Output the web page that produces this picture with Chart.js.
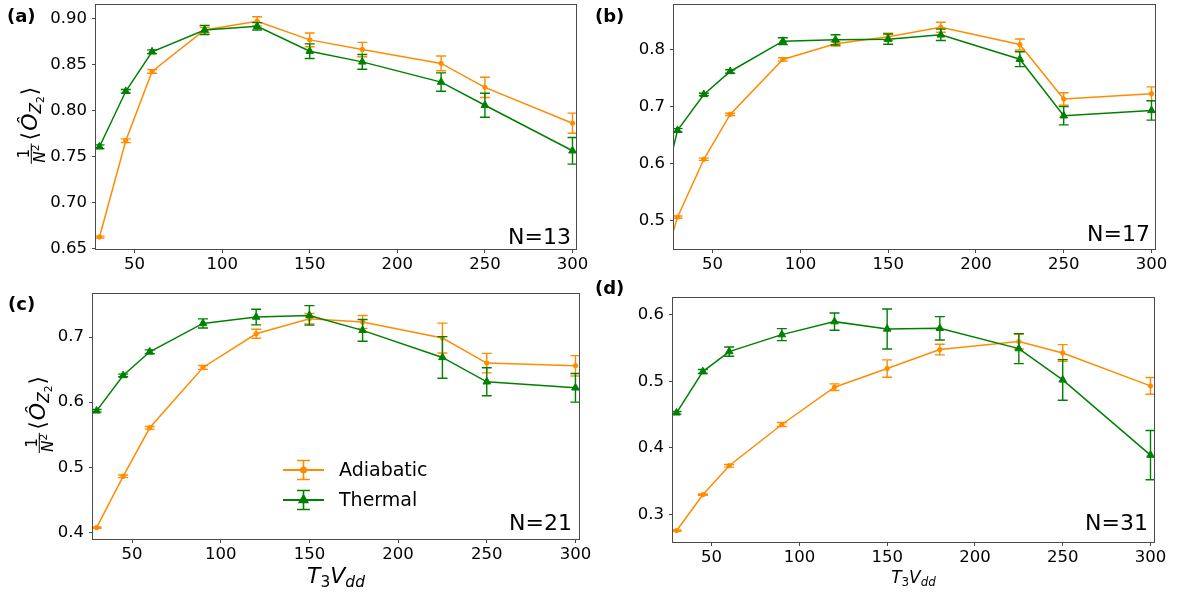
<!DOCTYPE html>
<html><head><meta charset="utf-8">
<script src="https://cdn.jsdelivr.net/npm/chart.js@4.4.0/dist/chart.umd.min.js"></script>
<style>
html,body{margin:0;padding:0;background:#fff;}
#wrap{position:relative;width:1182px;height:592px;overflow:hidden;background:#fff;}
canvas{position:absolute;left:0;top:0;}
</style></head><body>
<div id="wrap">
<canvas id="ca" width="1182" height="592"></canvas>
<canvas id="cb" width="1182" height="592"></canvas>
<canvas id="cc" width="1182" height="592"></canvas>
<canvas id="cd" width="1182" height="592"></canvas>
</div>
<script>
// ---------------- data ----------------
const xValues = [30, 45, 60, 90, 120, 150, 180, 225, 250, 300];
const xValuesN17 = [20, 30, 45, 60, 90, 120, 150, 180, 225, 250, 300];
const xTicks = [50, 100, 150, 200, 250, 300];

const adiabaticN13 = [0.6625, 0.7672, 0.8426, 0.8877, 0.8971, 0.8769, 0.8664, 0.8513, 0.8253, 0.7863];
const adiabaticErrN13 = [0.001, 0.002, 0.002, 0.003, 0.005, 0.0075, 0.0078, 0.008, 0.011, 0.011];
const thermalN13 = [0.7607, 0.821, 0.864, 0.8877, 0.8917, 0.8646, 0.853, 0.831, 0.8058, 0.7563];
const thermalErrN13 = [0.002, 0.002, 0.002, 0.005, 0.004, 0.008, 0.008, 0.010, 0.013, 0.0145];

const adiabaticN17 = [0.402, 0.5063, 0.6079, 0.6867, 0.7831, 0.8105, 0.8228, 0.8397, 0.8093, 0.7136, 0.7229];
const adiabaticErrN17 = [0.002, 0.002, 0.002, 0.002, 0.003, 0.004, 0.0064, 0.0087, 0.0097, 0.011, 0.012];
const thermalN17 = [0.531, 0.6587, 0.7217, 0.762, 0.8152, 0.8175, 0.8187, 0.8263, 0.7836, 0.6843, 0.6936];
const thermalErrN17 = [0.003, 0.003, 0.002, 0.003, 0.006, 0.009, 0.009, 0.010, 0.013, 0.016, 0.017];

const adiabaticN21 = [0.4071, 0.486, 0.5606, 0.6533, 0.7051, 0.7282, 0.7231, 0.6985, 0.66, 0.6559];
const adiabaticErrN21 = [0.001, 0.002, 0.002, 0.003, 0.007, 0.008, 0.010, 0.023, 0.015, 0.0156];
const thermalN21 = [0.5866, 0.641, 0.6774, 0.721, 0.7308, 0.7333, 0.7103, 0.6687, 0.6313, 0.622];
const thermalErrN21 = [0.002, 0.002, 0.003, 0.007, 0.012, 0.015, 0.0167, 0.032, 0.0215, 0.022];

const adiabaticN31 = [0.2755, 0.3295, 0.373, 0.435, 0.491, 0.519, 0.5475, 0.5595, 0.5425, 0.493];
const adiabaticErrN31 = [0.001, 0.001, 0.002, 0.003, 0.005, 0.013, 0.008, 0.011, 0.0125, 0.0125];
const thermalN31 = [0.4525, 0.5145, 0.5445, 0.57, 0.5895, 0.5785, 0.5795, 0.549, 0.502, 0.389];
const thermalErrN31 = [0.002, 0.003, 0.007, 0.009, 0.013, 0.030, 0.0175, 0.0225, 0.0305, 0.037];

const yTicksN13 = [0.65, 0.70, 0.75, 0.80, 0.85, 0.90];
const yTicksN17 = [0.5, 0.6, 0.7, 0.8];
const yTicksN21 = [0.4, 0.5, 0.6, 0.7];
const yTicksN31 = [0.3, 0.4, 0.5, 0.6];

const seriesLabels = ['Adiabatic', 'Thermal'];

// ---------------- style ----------------
const W = 1182, H = 592, XH = 30;
const ORANGE = '#ff8c00', GREEN = '#008000', FRAME = '#4a4a4a';
const FAM = "'DejaVu Sans', sans-serif";

// ---------------- helpers ----------------
function seqWidth(ctx, pieces) {
  let w = 0;
  for (const p of pieces) { ctx.font = p.font; w += ctx.measureText(p.t).width + (p.gap || 0); }
  return w;
}
function drawSeq(ctx, pieces, x, y) {
  for (const p of pieces) {
    ctx.font = p.font;
    ctx.fillText(p.t, x, y + (p.dy || 0));
    x += ctx.measureText(p.t).width + (p.gap || 0);
  }
  return x;
}
function drawXLabel(ctx, cx, base, s) {
  const sub = 0.7 * s;
  const pieces = [
    {t: 'T', font: `italic ${s}px ${FAM}`},
    {t: '3', font: `${sub}px ${FAM}`, dy: 0.2 * s},
    {t: 'V', font: `italic ${s}px ${FAM}`},
    {t: 'dd', font: `italic ${sub}px ${FAM}`, dy: 0.2 * s}
  ];
  ctx.textBaseline = 'alphabetic'; ctx.textAlign = 'left'; ctx.fillStyle = '#000';
  const w = seqWidth(ctx, pieces);
  drawSeq(ctx, pieces, cx - w / 2, base);
}
function drawYLabel(ctx, baseX, cy, s) {
  const fs = 0.7 * s, ss = 0.7 * fs;
  ctx.save();
  ctx.translate(baseX, cy);
  ctx.rotate(-Math.PI / 2);
  ctx.fillStyle = '#000'; ctx.textBaseline = 'alphabetic'; ctx.textAlign = 'left';
  ctx.font = `${fs}px ${FAM}`; const w1 = ctx.measureText('1').width;
  ctx.font = `italic ${fs}px ${FAM}`; const wN = ctx.measureText('N').width;
  ctx.font = `${ss}px ${FAM}`; const w2 = ctx.measureText('2').width;
  const fw = Math.max(w1, wN + w2) + 2;
  const main = [
    {t: '\u27E8', font: `${s}px ${FAM}`, gap: 1},
    {t: '\u00D4', font: `italic ${s}px ${FAM}`},
    {t: 'Z', font: `italic ${fs}px ${FAM}`, dy: 0.2 * s},
    {t: '2', font: `${ss}px ${FAM}`, dy: 0.32 * s, gap: 1},
    {t: '\u27E9', font: `${s}px ${FAM}`}
  ];
  const total = fw + 3 + seqWidth(ctx, main);
  let u = -total / 2;
  const axis = -0.26 * s;
  // fraction
  ctx.fillRect(u, axis - 0.5, fw, 1);
  ctx.font = `${fs}px ${FAM}`;
  ctx.fillText('1', u + (fw - w1) / 2, axis - 2);
  const dBase = axis + 2 + 0.73 * fs;
  ctx.font = `italic ${fs}px ${FAM}`;
  const dx = u + (fw - wN - w2) / 2;
  ctx.fillText('N', dx, dBase);
  ctx.font = `${ss}px ${FAM}`;
  ctx.fillText('2', dx + wN, dBase - 0.38 * fs);
  u += fw + 3;
  drawSeq(ctx, main, u, 0);
  ctx.restore();
}
function drawErrorBars(chart, meta, ds) {
  const ctx = chart.ctx, ys = chart.scales.y, a = chart.chartArea;
  ctx.save();
  ctx.beginPath(); ctx.rect(a.left, a.top, a.right - a.left, a.bottom - a.top); ctx.clip();
  ctx.strokeStyle = ds.borderColor; ctx.lineWidth = 1.4;
  meta.data.forEach((el, i) => {
    const v = ds.data[i].y, e = ds.err[i];
    const y1 = ys.getPixelForValue(v - e), y2 = ys.getPixelForValue(v + e);
    ctx.beginPath();
    ctx.moveTo(el.x, y1); ctx.lineTo(el.x, y2);
    ctx.moveTo(el.x - 5, y1); ctx.lineTo(el.x + 5, y1);
    ctx.moveTo(el.x - 5, y2); ctx.lineTo(el.x + 5, y2);
    ctx.stroke();
  });
  ctx.restore();
}

const annotPlugin = {
  id: 'annot',
  beforeDatasetDraw(chart, args) {
    const ds = chart.data.datasets[args.index];
    drawErrorBars(chart, args.meta, ds);
  },
  afterDraw(chart) {
    const p = chart.options.plugins.annot;
    const ctx = chart.ctx, a = chart.chartArea;
    ctx.save();
    // frame
    ctx.strokeStyle = FRAME; ctx.lineWidth = 1;
    ctx.strokeRect(Math.round(a.left) - 0.5, Math.round(a.top) - 0.5, Math.round(a.right - a.left) + 1, Math.round(a.bottom - a.top) + 1);
    // panel letter
    ctx.fillStyle = '#000';
    ctx.font = `bold 18px ${FAM}`; ctx.textAlign = 'left'; ctx.textBaseline = 'middle';
    ctx.fillText(p.panel, p.panelX, p.panelY);
    // N label
    ctx.font = `22px ${FAM}`; ctx.textAlign = 'right'; ctx.textBaseline = 'alphabetic';
    ctx.fillText(p.nText, a.right - p.nRight, a.bottom - p.nBottom);
    if (p.ylabel) drawYLabel(ctx, p.ylabel.x, (a.top + a.bottom) / 2 - 2, p.ylabel.s);
    if (p.xlabel) drawXLabel(ctx, (a.left + a.right) / 2, p.xlabel.base, p.xlabel.s);
    if (p.legend) {
      chart.data.datasets.forEach((ds, i) => {
        const y = p.legend.y + i * p.legend.dy, x0 = p.legend.x, x1 = x0 + 41, xc = (x0 + x1) / 2;
        ctx.strokeStyle = ds.borderColor; ctx.fillStyle = ds.borderColor; ctx.lineWidth = 2;
        ctx.beginPath(); ctx.moveTo(x0, y); ctx.lineTo(x1, y); ctx.stroke();
        ctx.lineWidth = 1.6;
        ctx.beginPath();
        ctx.moveTo(xc, y - 9.5); ctx.lineTo(xc, y + 9.5);
        ctx.moveTo(xc - 6.5, y - 9.5); ctx.lineTo(xc + 6.5, y - 9.5);
        ctx.moveTo(xc - 6.5, y + 9.5); ctx.lineTo(xc + 6.5, y + 9.5);
        ctx.stroke();
        Chart.helpers.drawPoint(ctx, {pointStyle: ds.pointStyle, radius: ds.pointRadius + 0.5, borderWidth: 1}, xc, y);
        ctx.fillStyle = '#000';
        ctx.font = `19px ${FAM}`; ctx.textAlign = 'left'; ctx.textBaseline = 'middle';
        ctx.fillText(ds.label, x0 + 56, y + 1);
      });
    }
    ctx.restore();
  }
};

function series(xs, vals, errs, i) {
  const isA = i === 0;
  const col = isA ? ORANGE : GREEN;
  return {
    label: seriesLabels[i],
    data: xs.map((x, k) => ({x: x, y: vals[k]})),
    err: errs,
    borderColor: col, backgroundColor: col,
    pointBackgroundColor: col, pointBorderColor: col,
    pointStyle: isA ? 'circle' : 'triangle',
    pointRadius: isA ? 2.2 : 4.4,
    pointBorderWidth: 1,
    borderWidth: 1.5,
    tension: 0,
    order: isA ? 2 : 1,
    clip: 0
  };
}

function makeChart(id, xs, ad, adErr, th, thErr, yTicks, p) {
  const tickFont = {family: FAM, size: 16.5};
  return new Chart(document.getElementById(id), {
    type: 'line',
    data: {datasets: [series(xs, ad, adErr, 0), series(xs, th, thErr, 1)]},
    options: {
      responsive: false, animation: false, devicePixelRatio: 1,
      events: [],
      layout: {padding: {left: 0, top: p.t, right: W - p.r, bottom: H - p.b - XH}},
      plugins: {legend: {display: false}, tooltip: {enabled: false}, annot: p},
      scales: {
        x: {
          type: 'linear', min: 28, max: 302,
          afterBuildTicks: s => { s.ticks = xTicks.map(v => ({value: v})); },
          afterFit: s => { s.height = XH; s.paddingLeft = 0; s.paddingRight = 0; },
          grid: {drawOnChartArea: false, drawTicks: true, tickLength: 4, color: FRAME, lineWidth: 1},
          border: {display: false},
          ticks: {font: tickFont, color: '#000', padding: 2, maxRotation: 0, autoSkip: false}
        },
        y: {
          type: 'linear', min: p.ymin, max: p.ymax,
          afterBuildTicks: s => { s.ticks = yTicks.map(v => ({value: v})); },
          afterFit: s => { s.width = p.l; s.paddingTop = 0; s.paddingBottom = 0; },
          grid: {drawOnChartArea: false, drawTicks: true, tickLength: 4, color: FRAME, lineWidth: 1},
          border: {display: false},
          ticks: {font: tickFont, color: '#000', padding: 5, autoSkip: false,
                  callback: v => Number(v).toFixed(p.dec)}
        }
      }
    },
    plugins: [annotPlugin]
  });
}

makeChart('ca', xValues, adiabaticN13, adiabaticErrN13, thermalN13, thermalErrN13, yTicksN13,
  {l: 96, r: 576, t: 5, b: 249, ymin: 0.6495, ymax: 0.9144, dec: 2,
   panel: '(a)', panelX: 7, panelY: 17, nText: 'N=13', nRight: 5, nBottom: 5,
   ylabel: {x: 37, s: 22}});
makeChart('cb', xValuesN17, adiabaticN17, adiabaticErrN17, thermalN17, thermalErrN17, yTicksN17,
  {l: 674, r: 1155, t: 5, b: 249, ymin: 0.4504, ymax: 0.878, dec: 1,
   panel: '(b)', panelX: 595, panelY: 17, nText: 'N=17', nRight: 5, nBottom: 8});
makeChart('cc', xValues, adiabaticN21, adiabaticErrN21, thermalN21, thermalErrN21, yTicksN21,
  {l: 93, r: 579, t: 294, b: 539, ymin: 0.3897, ymax: 0.7662, dec: 1,
   panel: '(c)', panelX: 8, panelY: 305, nText: 'N=21', nRight: 7, nBottom: 9,
   ylabel: {x: 45, s: 22}, xlabel: {base: 583, s: 22},
   legend: {x: 283, y: 470, dy: 30}});
makeChart('cd', xValues, adiabaticN31, adiabaticErrN31, thermalN31, thermalErrN31, yTicksN31,
  {l: 673, r: 1154, t: 298, b: 542, ymin: 0.2585, ymax: 0.625, dec: 1,
   panel: '(d)', panelX: 595, panelY: 289, nText: 'N=31', nRight: 6, nBottom: 12,
   xlabel: {base: 583, s: 17}});
</script>
</body></html>
